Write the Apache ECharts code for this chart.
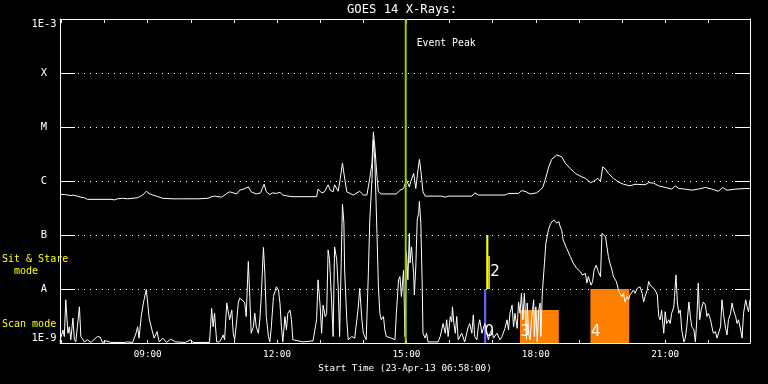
<!DOCTYPE html>
<html><head><meta charset="utf-8">
<script src="https://cdn.jsdelivr.net/npm/echarts@6/dist/echarts.min.js"></script>
<style>html,body{margin:0;padding:0;background:#000}#c{width:768px;height:384px}</style>
</head><body><div id="c"></div>
<script>
// ---------- data ----------
const chartTitle = 'GOES 14 X-Rays:';
const xAxisTitle = 'Start Time (23-Apr-13 06:58:00)';
const startTime = '06:58';
const endTime = '22:58';
const xTickLabels = ['09:00', '12:00', '15:00', '18:00', '21:00'];
const xHourTicks = ['07:00','08:00','09:00','10:00','11:00','12:00','13:00','14:00','15:00','16:00','17:00','18:00','19:00','20:00','21:00','22:00'];
const yTickExponents = [-9, -8, -7, -6, -5, -4, -3];
const yTickLabels = ['1E-9', 'A', 'B', 'C', 'M', 'X', '1E-3'];

// long channel: minute of day, log10 flux (W/m^2)
const longTimes = [418,424,429,433,436,442,447,452,456,489,494,498,505,512,526,533,538,542,547,554,561,575,587,610,624,629,633,643,650,654,659,664,668,675,680,684,691,697,702,705,710,714,719,724,728,735,742,775,777,782,786,791,794,798,800,805,808,811,813,817,826,835,840,845,849,852,854,856,859,861,865,886,891,896,900,904,906,910,913,916,918,920,923,926,949,954,958,991,995,1000,1037,1042,1056,1060,1065,1072,1081,1086,1090,1093,1098,1102,1109,1116,1121,1128,1135,1142,1149,1156,1160,1166,1170,1173,1177,1181,1188,1195,1202,1211,1218,1232,1237,1244,1251,1260,1269,1274,1279,1288,1297,1306,1316,1325,1334,1340,1346,1358,1371,1378];
const longLogFlux = [-6.25,-6.25,-6.26,-6.27,-6.26,-6.28,-6.30,-6.31,-6.34,-6.34,-6.35,-6.33,-6.32,-6.33,-6.31,-6.26,-6.19,-6.23,-6.26,-6.29,-6.32,-6.33,-6.33,-6.33,-6.32,-6.29,-6.28,-6.30,-6.23,-6.20,-6.22,-6.24,-6.17,-6.14,-6.11,-6.20,-6.24,-6.22,-6.06,-6.20,-6.25,-6.22,-6.23,-6.21,-6.26,-6.28,-6.29,-6.29,-6.15,-6.22,-6.20,-6.07,-6.17,-6.20,-6.07,-6.19,-5.95,-5.67,-5.86,-6.20,-6.26,-6.19,-6.26,-6.26,-5.95,-5.67,-5.09,-5.36,-5.92,-6.20,-6.24,-6.24,-6.17,-6.14,-5.98,-6.11,-6.01,-5.86,-6.14,-5.80,-5.60,-5.80,-6.20,-6.28,-6.28,-6.30,-6.28,-6.28,-6.22,-6.26,-6.26,-6.23,-6.23,-6.18,-6.19,-6.24,-6.22,-6.17,-6.11,-5.98,-5.74,-5.60,-5.52,-5.55,-5.67,-5.77,-5.86,-5.91,-5.95,-6.03,-6.01,-5.95,-6.01,-5.74,-5.78,-5.86,-5.95,-6.02,-6.06,-6.09,-6.06,-6.07,-6.03,-6.04,-6.09,-6.12,-6.15,-6.09,-6.14,-6.15,-6.17,-6.15,-6.12,-6.15,-6.19,-6.12,-6.17,-6.15,-6.14,-6.14];

// short channel: minute of day, log10 flux (W/m^2)
const shortTimes = [418,419,422,424,426,429,431,433,436,438,440,445,447,452,456,461,463,470,474,477,482,489,508,512,519,524,526,528,531,534,538,540,542,546,549,553,556,561,566,572,579,592,600,603,626,629,631,633,636,640,643,645,647,650,652,654,657,659,661,664,666,668,670,673,675,677,680,682,684,687,689,691,694,696,698,701,703,705,708,710,712,715,717,719,722,724,726,728,731,733,735,738,740,742,756,770,775,777,780,782,784,787,789,791,793,796,798,800,803,805,807,810,811,813,814,817,819,824,828,831,833,835,838,840,844,847,849,852,854,856,859,861,863,865,868,870,872,879,884,886,889,891,893,896,898,900,902,904,905,907,910,911,913,915,917,918,920,922,923,926,928,930,944,947,949,951,954,956,958,961,963,964,966,968,970,972,977,981,986,988,991,993,995,998,1000,1002,1005,1009,1012,1014,1016,1019,1021,1026,1030,1033,1037,1040,1042,1044,1047,1049,1051,1054,1056,1058,1060,1062,1064,1065,1067,1068,1070,1072,1074,1077,1078,1080,1082,1084,1086,1087,1089,1092,1094,1098,1101,1105,1107,1109,1112,1114,1116,1118,1123,1128,1132,1137,1142,1145,1149,1151,1153,1157,1159,1161,1164,1167,1170,1172,1174,1177,1179,1181,1183,1186,1188,1192,1195,1197,1200,1202,1204,1207,1209,1211,1216,1218,1221,1223,1225,1228,1230,1232,1235,1237,1239,1242,1244,1246,1249,1251,1253,1255,1258,1260,1262,1265,1267,1269,1272,1273,1275,1277,1279,1281,1283,1286,1288,1290,1293,1295,1297,1300,1302,1304,1306,1308,1310,1313,1316,1318,1320,1323,1325,1327,1330,1332,1334,1337,1339,1341,1344,1346,1348,1351,1353,1355,1358,1360,1362,1365,1367,1369,1372,1374,1376,1378];
const shortLogFlux = [-8.98,-8.91,-8.76,-8.88,-8.20,-8.82,-8.70,-8.94,-8.54,-8.94,-8.98,-8.33,-8.88,-8.98,-8.94,-8.99,-8.96,-8.88,-8.89,-8.99,-8.96,-8.99,-8.99,-8.98,-8.99,-8.81,-8.70,-8.91,-8.51,-8.26,-8.01,-8.26,-8.54,-8.76,-8.91,-8.79,-8.98,-8.91,-8.99,-8.93,-8.98,-8.99,-8.94,-8.99,-8.99,-8.36,-8.70,-8.45,-8.98,-8.98,-8.91,-8.85,-8.94,-8.26,-8.25,-8.57,-8.39,-8.82,-8.94,-8.57,-8.26,-8.17,-8.20,-8.22,-8.26,-8.51,-7.49,-8.14,-8.82,-8.70,-8.45,-8.70,-8.82,-8.57,-8.14,-7.23,-7.71,-8.51,-8.88,-8.98,-8.70,-8.14,-8.05,-7.96,-8.02,-8.26,-8.70,-8.98,-8.51,-8.76,-8.45,-8.39,-8.57,-8.94,-8.98,-8.96,-8.57,-7.83,-8.33,-8.82,-8.30,-8.51,-8.45,-7.28,-7.46,-8.26,-8.88,-7.22,-7.46,-7.96,-8.88,-7.03,-6.43,-6.78,-7.65,-8.57,-8.94,-8.88,-8.91,-8.57,-8.33,-7.99,-8.57,-8.82,-8.94,-7.71,-6.72,-5.98,-5.24,-5.61,-6.97,-7.96,-8.45,-8.57,-8.51,-8.76,-8.88,-8.91,-8.94,-8.45,-7.83,-7.77,-8.14,-7.65,-8.88,-7.31,-7.83,-6.97,-7.52,-7.22,-7.71,-8.11,-7.59,-6.72,-6.60,-6.38,-6.78,-7.96,-8.82,-8.91,-8.82,-8.98,-8.98,-8.88,-8.76,-8.64,-8.82,-8.57,-8.88,-8.51,-8.61,-8.33,-8.64,-8.82,-8.51,-8.94,-8.82,-8.98,-8.70,-8.64,-8.82,-8.48,-8.88,-8.94,-8.70,-8.57,-8.82,-8.64,-8.82,-8.94,-8.82,-8.76,-8.91,-8.82,-8.94,-8.88,-8.73,-8.57,-8.76,-8.45,-8.30,-8.70,-8.45,-8.73,-8.24,-8.45,-8.08,-8.57,-8.08,-8.33,-8.94,-8.26,-8.82,-8.94,-8.57,-8.20,-8.88,-8.33,-8.98,-8.39,-8.26,-8.88,-8.08,-7.52,-7.15,-6.88,-6.78,-6.72,-6.69,-6.78,-6.75,-6.85,-6.91,-7.09,-7.25,-7.40,-7.52,-7.62,-7.68,-7.74,-7.71,-7.89,-7.77,-7.93,-7.86,-7.65,-7.56,-7.68,-7.77,-6.97,-6.94,-7.03,-7.22,-7.40,-7.52,-7.65,-7.77,-7.86,-8.02,-8.08,-8.14,-8.08,-8.24,-8.14,-8.20,-8.11,-8.02,-8.08,-7.99,-8.01,-7.96,-8.08,-8.24,-8.14,-8.02,-7.86,-7.93,-7.96,-7.93,-8.02,-8.11,-8.51,-8.57,-8.39,-8.82,-8.42,-8.64,-8.57,-8.64,-8.45,-8.33,-8.14,-7.74,-8.26,-8.45,-8.39,-8.76,-8.98,-8.91,-8.70,-8.24,-8.51,-8.70,-8.76,-8.98,-8.57,-7.89,-8.57,-8.39,-8.24,-8.30,-8.51,-8.45,-8.57,-8.70,-8.82,-8.79,-8.91,-8.94,-8.70,-8.20,-8.45,-8.73,-8.85,-8.57,-8.45,-8.26,-8.39,-8.51,-8.64,-8.57,-8.76,-8.91,-8.45,-8.20,-8.33,-8.42,-8.20];

const eventPeakTime = '14:59';
const eventPeakLabel = 'Event Peak';

// observation intervals (mode bars)
const obsStart = ['16:48', '16:51', '16:54', '17:38', '19:16'];
const obsEnd   = ['16:51', '16:54', '16:56', '18:32', '20:10'];
const obsBase  = [-9, -8, -8, -9, -9];
const obsTop   = [-8, -7, -7.39, -8.39, -8];
const obsMode  = ['0', '2', '2', '3', '4'];
const modeNames = ['Sit & Stare\n  mode', 'Scan mode'];

// ---------- helpers / styles ----------
const toMin = s => { const p = s.split(':'); return (+p[0]) * 60 + (+p[1]); };
const pad = n => (n < 10 ? '0' : '') + n;
const fmt = m => pad(Math.floor(m / 60)) + ':' + pad(Math.round(m % 60));
const MONO = '"DejaVu Sans Mono", monospace';
const modeColor = { '0': '#6464ff', '2': '#ffff00', '3': '#ff8000', '4': '#ff8000' };

const minX = toMin(startTime), maxX = toMin(endTime);
const longData = longTimes.map((t, i) => [t, longLogFlux[i]]);
const shortData = shortTimes.map((t, i) => [t, shortLogFlux[i]]);
const obsData = obsStart.map((s, i) => [toMin(s), toMin(obsEnd[i]), obsBase[i], obsTop[i], i]);

const chart = echarts.init(document.getElementById('c'), null, { renderer: 'canvas' });
chart.setOption({
  backgroundColor: '#000',
  animation: false,
  grid: { left: 60, right: 18, top: 19, bottom: 41, containLabel: false },
  xAxis: [{
    type: 'value', min: minX, max: maxX, position: 'bottom',
    axisLine: { show: true, onZero: false, lineStyle: { color: '#fff', width: 1 } },
    axisTick: { show: true, inside: true, length: 3, customValues: xHourTicks.map(toMin), lineStyle: { color: '#fff' } },
    axisLabel: { show: true, customValues: xTickLabels.map(toMin), formatter: v => fmt(v),
      color: '#fff', fontFamily: MONO, fontSize: 9.3, margin: 12, verticalAlign: 'middle' },
    splitLine: { show: false },
    name: xAxisTitle, nameLocation: 'middle', nameGap: 25,
    nameTextStyle: { color: '#fff', fontFamily: MONO, fontSize: 9.3, verticalAlign: 'middle' }
  }, {
    type: 'value', min: minX, max: maxX, position: 'top',
    axisLine: { show: true, onZero: false, lineStyle: { color: '#fff', width: 1 } },
    axisTick: { show: true, inside: true, length: 4, customValues: xHourTicks.map(toMin), lineStyle: { color: '#fff' } },
    axisLabel: { show: false }, splitLine: { show: false }
  }],
  yAxis: [{
    type: 'value', min: -9, max: -3, interval: 1, position: 'left',
    axisLine: { show: true, onZero: false, lineStyle: { color: '#fff', width: 1 } },
    axisTick: { show: true, inside: true, length: 15, lineStyle: { color: '#fff' } },
    axisLabel: { color: '#fff', fontFamily: MONO, fontSize: 10.4, align: 'center', margin: 16,
      verticalAlignMinLabel: 'bottom', verticalAlignMaxLabel: 'top',
      formatter: v => { const k = yTickExponents.indexOf(Math.round(v)); return k >= 0 ? yTickLabels[k] : ''; } },
    splitLine: { show: true, lineStyle: { color: '#fff', width: 1, type: [1, 5] } }
  }, {
    type: 'value', min: -9, max: -3, interval: 1, position: 'right',
    axisLine: { show: true, onZero: false, lineStyle: { color: '#fff', width: 1 } },
    axisTick: { show: true, inside: true, length: 15, lineStyle: { color: '#fff' } },
    axisLabel: { show: false }, splitLine: { show: false }
  }],
  series: [{
    name: 'Observations', type: 'custom', xAxisIndex: 0, yAxisIndex: 0, z: 1,
    data: obsData,
    renderItem: (params, api) => {
      const i = api.value(4);
      const p0 = api.coord([api.value(0), api.value(3)]);
      const p1 = api.coord([api.value(1), api.value(2)]);
      const mode = obsMode[i];
      const children = [{ type: 'rect', shape: { x: p0[0], y: p0[1], width: p1[0] - p0[0], height: p1[1] - p0[1] },
        style: { fill: modeColor[mode] } }];
      const isLastOfMode = obsMode.lastIndexOf(mode) === i;
      if (isLastOfMode) {
        const sitStare = obsBase[i] > -9;
        children.push({ type: 'text', z2: 10, style: {
          text: mode, fill: '#fff', font: '15px "DejaVu Sans", sans-serif',
          x: sitStare ? p1[0] + 0.5 : p0[0] + 0.5,
          y: sitStare ? (p0[1] + p1[1]) / 2 : p1[1] - 10.5,
          align: 'left', verticalAlign: 'middle' } });
      }
      return { type: 'group', children };
    }
  }, {
    name: 'Short', type: 'line', data: shortData, showSymbol: false, symbol: 'none', z: 2,
    lineStyle: { color: '#fff', width: 1 }, emphasis: { disabled: true }
  }, {
    name: 'Long', type: 'line', data: longData, showSymbol: false, symbol: 'none', z: 2,
    lineStyle: { color: '#fff', width: 1 }, emphasis: { disabled: true }
  }, {
    name: 'Event Peak', type: 'custom', z: 5,
    data: [[toMin(eventPeakTime), -3, -9]],
    renderItem: (params, api) => {
      const top = api.coord([api.value(0), api.value(1)]);
      const bot = api.coord([api.value(0), api.value(2)]);
      return { type: 'group', children: [
        { type: 'line', shape: { x1: top[0], y1: top[1], x2: bot[0], y2: bot[1] },
          style: { stroke: '#99cc00', lineWidth: 2 } },
        { type: 'text', style: { text: eventPeakLabel, x: top[0] + 11, y: top[1] + 24,
          fill: '#fff', font: '9.8px ' + MONO, align: 'left', verticalAlign: 'middle' } }
      ] };
    }
  }],
  graphic: [
    { type: 'text', x: 402, y: 9.5, style: { text: chartTitle, fill: '#fff', font: '12.2px ' + MONO, align: 'center', verticalAlign: 'middle' } },
    { type: 'text', x: 2, y: 253, style: { text: modeNames[0], fill: '#ffff00', font: '10px ' + MONO, lineHeight: 12, align: 'left', verticalAlign: 'top' } },
    { type: 'text', x: 2, y: 324, style: { text: modeNames[1], fill: '#ffff00', font: '10px ' + MONO, align: 'left', verticalAlign: 'middle' } }
  ]
});
</script>
</body></html>
